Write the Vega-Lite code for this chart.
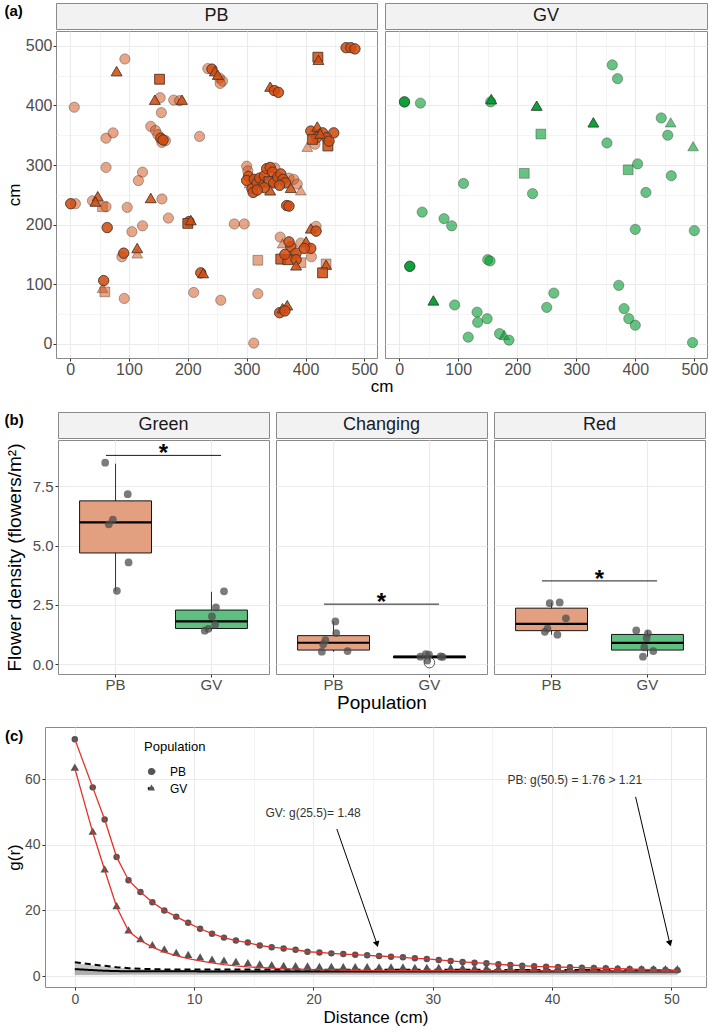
{
"$schema": "https://vega.github.io/schema/vega-lite/v6.json",
"padding": {"left": 3, "top": 2, "right": 3, "bottom": 2},
"background": "white",
"spacing": 16,
"resolve": {"scale": {"shape": "independent", "fill": "independent", "strokeDash": "independent", "size": "independent"}, "legend": {"shape": "independent", "fill": "independent", "strokeDash": "independent", "size": "independent"}},
"config": {
  "font": "Liberation Sans",
  "view": {"stroke": "#8a8a8a", "strokeWidth": 1},
  "axis": {"domain": false, "tickColor": "#333333", "tickSize": 3, "labelColor": "#4d4d4d", "labelFontSize": 14, "titleColor": "#000000", "titleFontSize": 17, "titleFontWeight": "normal", "gridColor": "#ebebeb", "labelPadding": 2, "titlePadding": 2, "labelOverlap": false, "labelFlush": false},
  "title": {"fontSize": 15, "fontWeight": "bold", "anchor": "start", "frame": "bounds", "offset": 0, "color": "#000000"}
},
"datasets": {
  "pb": [
{"x":93,"y":478,"s":"c"},{"x":7,"y":397,"s":"c"},{"x":153,"y":413,"s":"c"},{"x":155,"y":388,"s":"c"},{"x":176,"y":409,"s":"c"},{"x":186,"y":408,"s":"c"},{"x":234,"y":462,"s":"c"},{"x":254,"y":446,"s":"c"},{"x":259,"y":441,"s":"c"},{"x":255,"y":437,"s":"c"},{"x":403,"y":328,"s":"t"},{"x":416,"y":335,"s":"c"},{"x":415,"y":352,"s":"c"},{"x":61,"y":345,"s":"c"},{"x":73,"y":354,"s":"c"},{"x":137,"y":365,"s":"c"},{"x":145,"y":358,"s":"c"},{"x":149,"y":351,"s":"c"},{"x":156,"y":338,"s":"c"},{"x":162,"y":341,"s":"c"},{"x":220,"y":348,"s":"c"},{"x":61,"y":296,"s":"c"},{"x":123,"y":288,"s":"c"},{"x":116,"y":274,"s":"c"},{"x":300,"y":298,"s":"c"},{"x":302,"y":290,"s":"c"},{"x":305,"y":267,"s":"t"},{"x":348,"y":295,"s":"c"},{"x":372,"y":278,"s":"c"},{"x":380,"y":276,"s":"c"},{"x":386,"y":268,"s":"c"},{"x":392,"y":255,"s":"t"},{"x":9,"y":235,"s":"c"},{"x":38,"y":240,"s":"c"},{"x":55,"y":230,"s":"q"},{"x":61,"y":230,"s":"c"},{"x":97,"y":229,"s":"c"},{"x":156,"y":243,"s":"c"},{"x":167,"y":211,"s":"c"},{"x":123,"y":198,"s":"c"},{"x":105,"y":188,"s":"c"},{"x":279,"y":201,"s":"c"},{"x":296,"y":201,"s":"c"},{"x":114,"y":149,"s":"t"},{"x":88,"y":146,"s":"c"},{"x":319,"y":140,"s":"q"},{"x":55,"y":91,"s":"t"},{"x":59,"y":87,"s":"q"},{"x":92,"y":76,"s":"c"},{"x":210,"y":86,"s":"c"},{"x":256,"y":73,"s":"c"},{"x":319,"y":84,"s":"c"},{"x":312,"y":1,"s":"c"},{"x":357,"y":179,"s":"c"},{"x":418,"y":197,"s":"c"},{"x":361,"y":166,"s":"t"},{"x":392,"y":169,"s":"c"},{"x":410,"y":146,"s":"c"},{"x":392,"y":136,"s":"q"},{"x":380,"y":150,"s":"c"},{"x":435,"y":134,"s":"q"},
{"x":79,"y":455,"s":"t"},{"x":79,"y":455,"s":"t"},{"x":79,"y":455,"s":"t"},
{"x":152,"y":444,"s":"q"},{"x":152,"y":444,"s":"q"},{"x":152,"y":444,"s":"q"},
{"x":144,"y":407,"s":"t"},{"x":144,"y":407,"s":"t"},{"x":144,"y":407,"s":"t"},
{"x":190,"y":407,"s":"t"},{"x":190,"y":407,"s":"t"},{"x":190,"y":407,"s":"t"},
{"x":241,"y":461,"s":"c"},{"x":241,"y":461,"s":"c"},{"x":241,"y":461,"s":"c"},
{"x":246,"y":455,"s":"t"},{"x":246,"y":455,"s":"t"},{"x":246,"y":455,"s":"t"},
{"x":251,"y":449,"s":"t"},{"x":251,"y":449,"s":"t"},{"x":251,"y":449,"s":"t"},
{"x":340,"y":429,"s":"t"},{"x":340,"y":429,"s":"t"},{"x":340,"y":429,"s":"t"},
{"x":347,"y":425,"s":"c"},{"x":347,"y":425,"s":"c"},{"x":347,"y":425,"s":"c"},
{"x":354,"y":422,"s":"c"},{"x":354,"y":422,"s":"c"},{"x":354,"y":422,"s":"c"},
{"x":421,"y":481,"s":"q"},{"x":421,"y":481,"s":"q"},{"x":421,"y":481,"s":"q"},
{"x":422,"y":474,"s":"t"},{"x":422,"y":474,"s":"t"},{"x":422,"y":474,"s":"t"},
{"x":469,"y":497,"s":"c"},{"x":469,"y":497,"s":"c"},{"x":469,"y":497,"s":"c"},
{"x":477,"y":497,"s":"c"},{"x":477,"y":497,"s":"c"},{"x":477,"y":497,"s":"c"},
{"x":484,"y":495,"s":"c"},{"x":484,"y":495,"s":"c"},{"x":484,"y":495,"s":"c"},
{"x":409,"y":357,"s":"c"},{"x":409,"y":357,"s":"c"},{"x":409,"y":357,"s":"c"},
{"x":420,"y":362,"s":"t"},{"x":420,"y":362,"s":"t"},{"x":420,"y":362,"s":"t"},
{"x":429,"y":354,"s":"c"},{"x":429,"y":354,"s":"c"},{"x":429,"y":354,"s":"c"},
{"x":448,"y":354,"s":"c"},{"x":448,"y":354,"s":"c"},{"x":448,"y":354,"s":"c"},
{"x":436,"y":346,"s":"c"},{"x":436,"y":346,"s":"c"},{"x":436,"y":346,"s":"c"},
{"x":419,"y":346,"s":"c"},{"x":419,"y":346,"s":"c"},{"x":419,"y":346,"s":"c"},
{"x":438,"y":332,"s":"q"},{"x":438,"y":332,"s":"q"},{"x":438,"y":332,"s":"q"},
{"x":412,"y":343,"s":"q"},{"x":412,"y":343,"s":"q"},{"x":412,"y":343,"s":"q"},
{"x":425,"y":350,"s":"t"},{"x":425,"y":350,"s":"t"},{"x":425,"y":350,"s":"t"},
{"x":440,"y":340,"s":"c"},{"x":440,"y":340,"s":"c"},{"x":440,"y":340,"s":"c"},
{"x":154,"y":345,"s":"c"},{"x":154,"y":345,"s":"c"},{"x":154,"y":345,"s":"c"},
{"x":158,"y":342,"s":"c"},{"x":158,"y":342,"s":"c"},{"x":158,"y":342,"s":"c"},
{"x":303,"y":281,"s":"c"},{"x":303,"y":281,"s":"c"},{"x":303,"y":281,"s":"c"},
{"x":300,"y":274,"s":"c"},{"x":300,"y":274,"s":"c"},{"x":300,"y":274,"s":"c"},
{"x":309,"y":260,"s":"c"},{"x":309,"y":260,"s":"c"},{"x":309,"y":260,"s":"c"},
{"x":311,"y":254,"s":"c"},{"x":311,"y":254,"s":"c"},{"x":311,"y":254,"s":"c"},
{"x":313,"y":276,"s":"c"},{"x":313,"y":276,"s":"c"},{"x":313,"y":276,"s":"c"},
{"x":318,"y":270,"s":"c"},{"x":318,"y":270,"s":"c"},{"x":318,"y":270,"s":"c"},
{"x":322,"y":278,"s":"c"},{"x":322,"y":278,"s":"c"},{"x":322,"y":278,"s":"c"},
{"x":326,"y":268,"s":"t"},{"x":326,"y":268,"s":"t"},{"x":326,"y":268,"s":"t"},
{"x":330,"y":282,"s":"c"},{"x":330,"y":282,"s":"c"},{"x":330,"y":282,"s":"c"},
{"x":334,"y":294,"s":"c"},{"x":334,"y":294,"s":"c"},{"x":334,"y":294,"s":"c"},
{"x":340,"y":296,"s":"c"},{"x":340,"y":296,"s":"c"},{"x":340,"y":296,"s":"c"},
{"x":344,"y":288,"s":"c"},{"x":344,"y":288,"s":"c"},{"x":344,"y":288,"s":"c"},
{"x":338,"y":272,"s":"q"},{"x":338,"y":272,"s":"q"},{"x":338,"y":272,"s":"q"},
{"x":346,"y":270,"s":"c"},{"x":346,"y":270,"s":"c"},{"x":346,"y":270,"s":"c"},
{"x":340,"y":255,"s":"t"},{"x":340,"y":255,"s":"t"},{"x":340,"y":255,"s":"t"},
{"x":353,"y":280,"s":"c"},{"x":353,"y":280,"s":"c"},{"x":353,"y":280,"s":"c"},
{"x":358,"y":285,"s":"c"},{"x":358,"y":285,"s":"c"},{"x":358,"y":285,"s":"c"},
{"x":362,"y":276,"s":"c"},{"x":362,"y":276,"s":"c"},{"x":362,"y":276,"s":"c"},
{"x":366,"y":270,"s":"c"},{"x":366,"y":270,"s":"c"},{"x":366,"y":270,"s":"c"},
{"x":356,"y":266,"s":"c"},{"x":356,"y":266,"s":"c"},{"x":356,"y":266,"s":"c"},
{"x":375,"y":259,"s":"t"},{"x":375,"y":259,"s":"t"},{"x":375,"y":259,"s":"t"},
{"x":330,"y":262,"s":"c"},{"x":330,"y":262,"s":"c"},{"x":330,"y":262,"s":"c"},
{"x":318,"y":258,"s":"c"},{"x":318,"y":258,"s":"c"},{"x":318,"y":258,"s":"c"},
{"x":368,"y":232,"s":"c"},{"x":368,"y":232,"s":"c"},{"x":368,"y":232,"s":"c"},
{"x":372,"y":231,"s":"c"},{"x":372,"y":231,"s":"c"},{"x":372,"y":231,"s":"c"},
{"x":1,"y":235,"s":"c"},{"x":1,"y":235,"s":"c"},{"x":1,"y":235,"s":"c"},
{"x":47,"y":245,"s":"t"},{"x":47,"y":245,"s":"t"},{"x":47,"y":245,"s":"t"},
{"x":43,"y":236,"s":"t"},{"x":43,"y":236,"s":"t"},{"x":43,"y":236,"s":"t"},
{"x":137,"y":242,"s":"t"},{"x":137,"y":242,"s":"t"},{"x":137,"y":242,"s":"t"},
{"x":202,"y":205,"s":"c"},{"x":202,"y":205,"s":"c"},{"x":202,"y":205,"s":"c"},
{"x":200,"y":202,"s":"q"},{"x":200,"y":202,"s":"q"},{"x":200,"y":202,"s":"q"},
{"x":205,"y":205,"s":"t"},{"x":205,"y":205,"s":"t"},{"x":205,"y":205,"s":"t"},
{"x":63,"y":195,"s":"c"},{"x":63,"y":195,"s":"c"},{"x":63,"y":195,"s":"c"},
{"x":114,"y":158,"s":"t"},{"x":114,"y":158,"s":"t"},{"x":114,"y":158,"s":"t"},
{"x":91,"y":152,"s":"c"},{"x":91,"y":152,"s":"c"},{"x":91,"y":152,"s":"c"},
{"x":222,"y":119,"s":"c"},{"x":222,"y":119,"s":"c"},{"x":222,"y":119,"s":"c"},
{"x":226,"y":116,"s":"t"},{"x":226,"y":116,"s":"t"},{"x":226,"y":116,"s":"t"},
{"x":57,"y":106,"s":"c"},{"x":57,"y":106,"s":"c"},{"x":57,"y":106,"s":"c"},
{"x":356,"y":52,"s":"c"},{"x":356,"y":52,"s":"c"},{"x":356,"y":52,"s":"c"},
{"x":361,"y":57,"s":"t"},{"x":361,"y":57,"s":"t"},{"x":361,"y":57,"s":"t"},
{"x":369,"y":62,"s":"t"},{"x":369,"y":62,"s":"t"},{"x":369,"y":62,"s":"t"},
{"x":365,"y":55,"s":"c"},{"x":365,"y":55,"s":"c"},{"x":365,"y":55,"s":"c"},
{"x":409,"y":191,"s":"t"},{"x":409,"y":191,"s":"t"},{"x":409,"y":191,"s":"t"},
{"x":418,"y":189,"s":"c"},{"x":418,"y":189,"s":"c"},{"x":418,"y":189,"s":"c"},
{"x":375,"y":163,"s":"c"},{"x":375,"y":163,"s":"c"},{"x":375,"y":163,"s":"c"},
{"x":401,"y":169,"s":"t"},{"x":401,"y":169,"s":"t"},{"x":401,"y":169,"s":"t"},
{"x":409,"y":160,"s":"c"},{"x":409,"y":160,"s":"c"},{"x":409,"y":160,"s":"c"},
{"x":384,"y":152,"s":"c"},{"x":384,"y":152,"s":"c"},{"x":384,"y":152,"s":"c"},
{"x":358,"y":142,"s":"q"},{"x":358,"y":142,"s":"q"},{"x":358,"y":142,"s":"q"},
{"x":370,"y":141,"s":"q"},{"x":370,"y":141,"s":"q"},{"x":370,"y":141,"s":"q"},
{"x":384,"y":141,"s":"c"},{"x":384,"y":141,"s":"c"},{"x":384,"y":141,"s":"c"},
{"x":384,"y":129,"s":"t"},{"x":384,"y":129,"s":"t"},{"x":384,"y":129,"s":"t"},
{"x":365,"y":150,"s":"c"},{"x":365,"y":150,"s":"c"},{"x":365,"y":150,"s":"c"},
{"x":398,"y":160,"s":"c"},{"x":398,"y":160,"s":"c"},{"x":398,"y":160,"s":"c"},
{"x":372,"y":171,"s":"c"},{"x":372,"y":171,"s":"c"},{"x":372,"y":171,"s":"c"},
{"x":435,"y":130,"s":"t"},{"x":435,"y":130,"s":"t"},{"x":435,"y":130,"s":"t"},
{"x":429,"y":119,"s":"q"},{"x":429,"y":119,"s":"q"},{"x":429,"y":119,"s":"q"}
  ],
  "gv": [
{"x":36,"y":404,"s":"c"},{"x":240,"y":352,"s":"q"},{"x":361,"y":468,"s":"c"},{"x":370,"y":445,"s":"c"},{"x":444,"y":379,"s":"c"},{"x":460,"y":369,"s":"t"},{"x":455,"y":350,"s":"c"},{"x":498,"y":329,"s":"t"},{"x":352,"y":337,"s":"c"},{"x":212,"y":286,"s":"q"},{"x":388,"y":292,"s":"q"},{"x":404,"y":302,"s":"c"},{"x":461,"y":282,"s":"c"},{"x":109,"y":269,"s":"c"},{"x":226,"y":252,"s":"c"},{"x":418,"y":254,"s":"c"},{"x":39,"y":221,"s":"c"},{"x":76,"y":210,"s":"c"},{"x":89,"y":198,"s":"c"},{"x":400,"y":192,"s":"c"},{"x":500,"y":190,"s":"c"},{"x":150,"y":141,"s":"c"},{"x":154,"y":139,"s":"c"},{"x":94,"y":65,"s":"c"},{"x":132,"y":53,"s":"c"},{"x":133,"y":36,"s":"c"},{"x":149,"y":42,"s":"c"},{"x":117,"y":11,"s":"c"},{"x":170,"y":17,"s":"c"},{"x":178,"y":12,"s":"t"},{"x":186,"y":6,"s":"c"},{"x":262,"y":85,"s":"c"},{"x":250,"y":61,"s":"c"},{"x":372,"y":98,"s":"c"},{"x":381,"y":59,"s":"c"},{"x":389,"y":42,"s":"c"},{"x":400,"y":31,"s":"c"},{"x":497,"y":2,"s":"c"},{"x":155,"y":406,"s":"c"},
{"x":9,"y":406,"s":"c"},{"x":9,"y":406,"s":"c"},{"x":9,"y":406,"s":"c"},
{"x":156,"y":408,"s":"t"},{"x":156,"y":408,"s":"t"},{"x":156,"y":408,"s":"t"},
{"x":233,"y":397,"s":"t"},{"x":233,"y":397,"s":"t"},{"x":233,"y":397,"s":"t"},
{"x":329,"y":369,"s":"t"},{"x":329,"y":369,"s":"t"},{"x":329,"y":369,"s":"t"},
{"x":18,"y":130,"s":"c"},{"x":18,"y":130,"s":"c"},{"x":18,"y":130,"s":"c"},
{"x":58,"y":70,"s":"t"},{"x":58,"y":70,"s":"t"},{"x":58,"y":70,"s":"t"}
  ],
  "box": [
{"col":"Green","pop":"PB","q1":4.69,"med":5.98,"q3":6.89,"lo":3.09,"hi":8.46,"out":null},
{"col":"Green","pop":"GV","q1":1.5,"med":1.8,"q3":2.28,"lo":1.41,"hi":3.05,"out":null},
{"col":"Changing","pop":"PB","q1":0.59,"med":0.9,"q3":1.2,"lo":0.52,"hi":1.8,"out":null},
{"col":"Changing","pop":"GV","q1":0.26,"med":0.3,"q3":0.34,"lo":0.15,"hi":0.42,"out":0.06},
{"col":"Red","pop":"PB","q1":1.41,"med":1.7,"q3":2.36,"lo":1.24,"hi":2.6,"out":null},
{"col":"Red","pop":"GV","q1":0.59,"med":0.89,"q3":1.25,"lo":0.31,"hi":1.42,"out":null}
  ],
  "pts": [
{"col":"Green","pop":"PB","xj":0.892,"v":8.5},{"col":"Green","pop":"PB","xj":1.127,"v":7.17},{"col":"Green","pop":"PB","xj":0.972,"v":6.1},{"col":"Green","pop":"PB","xj":0.93,"v":5.9},{"col":"Green","pop":"PB","xj":1.136,"v":4.29},{"col":"Green","pop":"PB","xj":1.014,"v":3.09},
{"col":"Green","pop":"GV","xj":2.131,"v":3.07},{"col":"Green","pop":"GV","xj":2.047,"v":2.39},{"col":"Green","pop":"GV","xj":2.005,"v":2.01},{"col":"Green","pop":"GV","xj":2.038,"v":1.66},{"col":"Green","pop":"GV","xj":1.967,"v":1.49},{"col":"Green","pop":"GV","xj":1.93,"v":1.41},
{"col":"Changing","pop":"PB","xj":1.019,"v":1.8},{"col":"Changing","pop":"PB","xj":1.028,"v":1.31},{"col":"Changing","pop":"PB","xj":0.915,"v":1.01},{"col":"Changing","pop":"PB","xj":0.892,"v":0.84},{"col":"Changing","pop":"PB","xj":0.878,"v":0.52},{"col":"Changing","pop":"PB","xj":1.146,"v":0.55},
{"col":"Changing","pop":"GV","xj":1.906,"v":0.31},{"col":"Changing","pop":"GV","xj":1.962,"v":0.42},{"col":"Changing","pop":"GV","xj":1.995,"v":0.4},{"col":"Changing","pop":"GV","xj":1.977,"v":0.15},{"col":"Changing","pop":"GV","xj":2.117,"v":0.32},{"col":"Changing","pop":"GV","xj":2.136,"v":0.3},
{"col":"Red","pop":"PB","xj":0.981,"v":2.57},{"col":"Red","pop":"PB","xj":1.085,"v":2.6},{"col":"Red","pop":"PB","xj":1.15,"v":1.93},{"col":"Red","pop":"PB","xj":0.958,"v":1.5},{"col":"Red","pop":"PB","xj":0.93,"v":1.36},{"col":"Red","pop":"PB","xj":1.061,"v":1.24},
{"col":"Red","pop":"GV","xj":1.883,"v":1.42},{"col":"Red","pop":"GV","xj":2.005,"v":1.3},{"col":"Red","pop":"GV","xj":1.991,"v":1.1},{"col":"Red","pop":"GV","xj":1.967,"v":0.7},{"col":"Red","pop":"GV","xj":2.061,"v":0.55},{"col":"Red","pop":"GV","xj":1.953,"v":0.31}
  ],
  "sig": [
{"col":"Green","y":8.81,"lab":"*"},{"col":"Changing","y":2.53,"lab":"*"},{"col":"Red","y":3.51,"lab":"*"}
  ],
  "gr": [
{"d":0,"p":"PB","g":72.2,"f":72.2,"lo":0.4,"hi":2.3,"th":2.1},
{"d":1.5,"p":"PB","g":57.5,"f":57.5,"lo":0.4,"hi":2.0,"th":1.8},
{"d":2.5,"p":"PB","g":47.7,"f":47.7,"lo":0.5,"hi":1.9,"th":1.6},
{"d":3.5,"p":"PB","g":36.3,"f":36.3,"lo":0.5,"hi":1.8,"th":1.5},
{"d":4.5,"p":"PB","g":29.2,"f":29.2,"lo":0.6,"hi":1.7,"th":1.45},
{"d":5.5,"p":"PB","g":25.6,"f":25.6,"lo":0.6,"hi":1.7,"th":1.45},
{"d":6.5,"p":"PB","g":22.5,"f":22.5,"lo":0.6,"hi":1.7,"th":1.45},
{"d":7.5,"p":"PB","g":20.0,"f":20.0,"lo":0.6,"hi":1.7,"th":1.45},
{"d":8.5,"p":"PB","g":18.1,"f":18.1,"lo":0.6,"hi":1.7,"th":1.45},
{"d":9.5,"p":"PB","g":16.2,"f":16.2,"lo":0.6,"hi":1.7,"th":1.45},
{"d":10.5,"p":"PB","g":14.4,"f":14.4,"lo":0.6,"hi":1.65,"th":1.4},
{"d":11.5,"p":"PB","g":12.9,"f":12.9,"lo":0.6,"hi":1.65,"th":1.4},
{"d":12.5,"p":"PB","g":11.7,"f":11.7,"lo":0.6,"hi":1.65,"th":1.4},
{"d":13.5,"p":"PB","g":10.8,"f":10.8,"lo":0.6,"hi":1.65,"th":1.4},
{"d":14.5,"p":"PB","g":10.2,"f":10.2,"lo":0.6,"hi":1.65,"th":1.4},
{"d":15.5,"p":"PB","g":9.3,"f":9.3,"lo":0.6,"hi":1.65,"th":1.4},
{"d":16.5,"p":"PB","g":8.8,"f":8.8,"lo":0.6,"hi":1.65,"th":1.4},
{"d":17.5,"p":"PB","g":8.4,"f":8.4,"lo":0.6,"hi":1.65,"th":1.4},
{"d":18.5,"p":"PB","g":8.0,"f":8.0,"lo":0.6,"hi":1.65,"th":1.4},
{"d":19.5,"p":"PB","g":7.4,"f":7.4,"lo":0.6,"hi":1.65,"th":1.4},
{"d":20.5,"p":"PB","g":7.2,"f":7.2,"lo":0.6,"hi":1.65,"th":1.4},
{"d":21.5,"p":"PB","g":6.9,"f":6.9,"lo":0.6,"hi":1.65,"th":1.4},
{"d":22.5,"p":"PB","g":6.7,"f":6.7,"lo":0.6,"hi":1.65,"th":1.4},
{"d":23.5,"p":"PB","g":6.5,"f":6.5,"lo":0.6,"hi":1.65,"th":1.4},
{"d":24.5,"p":"PB","g":6.3,"f":6.3,"lo":0.6,"hi":1.65,"th":1.4},
{"d":25.5,"p":"PB","g":6.1,"f":6.1,"lo":0.6,"hi":1.65,"th":1.4},
{"d":26.5,"p":"PB","g":5.9,"f":5.9,"lo":0.6,"hi":1.65,"th":1.4},
{"d":27.5,"p":"PB","g":5.7,"f":5.7,"lo":0.6,"hi":1.65,"th":1.4},
{"d":28.5,"p":"PB","g":5.4,"f":5.4,"lo":0.6,"hi":1.65,"th":1.4},
{"d":29.5,"p":"PB","g":5.2,"f":5.2,"lo":0.6,"hi":1.65,"th":1.4},
{"d":30.5,"p":"PB","g":4.9,"f":4.9,"lo":0.6,"hi":1.65,"th":1.4},
{"d":31.5,"p":"PB","g":4.6,"f":4.6,"lo":0.6,"hi":1.65,"th":1.4},
{"d":32.5,"p":"PB","g":4.3,"f":4.3,"lo":0.6,"hi":1.65,"th":1.4},
{"d":33.5,"p":"PB","g":4.06,"f":4.06,"lo":0.6,"hi":1.65,"th":1.4},
{"d":34.5,"p":"PB","g":3.86,"f":3.86,"lo":0.6,"hi":1.65,"th":1.4},
{"d":35.5,"p":"PB","g":3.55,"f":3.55,"lo":0.6,"hi":1.65,"th":1.4},
{"d":36.5,"p":"PB","g":3.35,"f":3.35,"lo":0.6,"hi":1.65,"th":1.4},
{"d":37.5,"p":"PB","g":3.15,"f":3.15,"lo":0.6,"hi":1.65,"th":1.4},
{"d":38.5,"p":"PB","g":2.95,"f":2.95,"lo":0.6,"hi":1.65,"th":1.4},
{"d":39.5,"p":"PB","g":2.84,"f":2.84,"lo":0.6,"hi":1.65,"th":1.4},
{"d":40.5,"p":"PB","g":2.74,"f":2.74,"lo":0.6,"hi":1.65,"th":1.4},
{"d":41.5,"p":"PB","g":2.64,"f":2.64,"lo":0.6,"hi":1.65,"th":1.4},
{"d":42.5,"p":"PB","g":2.54,"f":2.54,"lo":0.6,"hi":1.65,"th":1.4},
{"d":43.5,"p":"PB","g":2.44,"f":2.44,"lo":0.6,"hi":1.65,"th":1.4},
{"d":44.5,"p":"PB","g":2.34,"f":2.34,"lo":0.6,"hi":1.65,"th":1.4},
{"d":45.5,"p":"PB","g":2.23,"f":2.23,"lo":0.6,"hi":1.65,"th":1.4},
{"d":46.5,"p":"PB","g":2.13,"f":2.13,"lo":0.6,"hi":1.65,"th":1.4},
{"d":47.5,"p":"PB","g":2.03,"f":2.03,"lo":0.6,"hi":1.65,"th":1.4},
{"d":48.5,"p":"PB","g":1.95,"f":1.95,"lo":0.6,"hi":1.65,"th":1.4},
{"d":49.5,"p":"PB","g":1.85,"f":1.85,"lo":0.6,"hi":1.65,"th":1.4},
{"d":50.5,"p":"PB","g":1.76,"f":1.76,"lo":0.6,"hi":1.65,"th":1.4},
{"d":0,"p":"GV","g":63.3,"f":63.3,"lo":0.2,"hi":3.9,"th":4.2},
{"d":1.5,"p":"GV","g":43.8,"f":43.8,"lo":0.2,"hi":3.3,"th":3.5},
{"d":2.5,"p":"GV","g":32.3,"f":32.3,"lo":0.2,"hi":2.9,"th":3.1},
{"d":3.5,"p":"GV","g":21.1,"f":21.1,"lo":0.2,"hi":2.6,"th":2.7},
{"d":4.5,"p":"GV","g":13.7,"f":13.7,"lo":0.2,"hi":2.3,"th":2.4},
{"d":5.5,"p":"GV","g":11.0,"f":10.8,"lo":0.2,"hi":2.1,"th":2.2},
{"d":6.5,"p":"GV","g":9.2,"f":8.8,"lo":0.2,"hi":2.0,"th":2.1},
{"d":7.5,"p":"GV","g":7.9,"f":7.3,"lo":0.2,"hi":1.95,"th":2.0},
{"d":8.5,"p":"GV","g":6.8,"f":6.2,"lo":0.2,"hi":1.9,"th":1.95},
{"d":9.5,"p":"GV","g":6.2,"f":5.3,"lo":0.2,"hi":1.9,"th":1.95},
{"d":10.5,"p":"GV","g":5.5,"f":4.6,"lo":0.2,"hi":1.9,"th":1.95},
{"d":11.5,"p":"GV","g":4.8,"f":4.0,"lo":0.2,"hi":1.9,"th":1.95},
{"d":12.5,"p":"GV","g":4.5,"f":3.5,"lo":0.2,"hi":1.9,"th":1.95},
{"d":13.5,"p":"GV","g":4.1,"f":3.1,"lo":0.2,"hi":1.9,"th":1.95},
{"d":14.5,"p":"GV","g":3.7,"f":2.8,"lo":0.2,"hi":1.9,"th":1.95},
{"d":15.5,"p":"GV","g":3.3,"f":2.6,"lo":0.2,"hi":1.9,"th":1.95},
{"d":16.5,"p":"GV","g":3.1,"f":2.4,"lo":0.2,"hi":1.9,"th":1.95},
{"d":17.5,"p":"GV","g":2.9,"f":2.2,"lo":0.2,"hi":1.9,"th":1.95},
{"d":18.5,"p":"GV","g":2.8,"f":2.1,"lo":0.2,"hi":1.9,"th":1.95},
{"d":19.5,"p":"GV","g":2.7,"f":2.0,"lo":0.2,"hi":1.9,"th":1.95},
{"d":20.5,"p":"GV","g":2.6,"f":1.9,"lo":0.2,"hi":1.85,"th":1.9},
{"d":21.5,"p":"GV","g":2.6,"f":1.85,"lo":0.2,"hi":1.85,"th":1.9},
{"d":22.5,"p":"GV","g":2.5,"f":1.8,"lo":0.2,"hi":1.85,"th":1.9},
{"d":23.5,"p":"GV","g":2.5,"f":1.75,"lo":0.2,"hi":1.85,"th":1.9},
{"d":24.5,"p":"GV","g":2.5,"f":1.7,"lo":0.2,"hi":1.85,"th":1.9},
{"d":25.5,"p":"GV","g":2.4,"f":1.65,"lo":0.2,"hi":1.85,"th":1.9},
{"d":26.5,"p":"GV","g":2.4,"f":1.6,"lo":0.2,"hi":1.85,"th":1.9},
{"d":27.5,"p":"GV","g":2.4,"f":1.6,"lo":0.2,"hi":1.85,"th":1.9},
{"d":28.5,"p":"GV","g":2.3,"f":1.6,"lo":0.2,"hi":1.85,"th":1.9},
{"d":29.5,"p":"GV","g":2.3,"f":1.6,"lo":0.2,"hi":1.85,"th":1.9},
{"d":30.5,"p":"GV","g":2.3,"f":1.6,"lo":0.2,"hi":1.85,"th":1.9},
{"d":31.5,"p":"GV","g":2.3,"f":1.6,"lo":0.2,"hi":1.85,"th":1.9},
{"d":32.5,"p":"GV","g":2.3,"f":1.6,"lo":0.2,"hi":1.85,"th":1.9},
{"d":33.5,"p":"GV","g":2.2,"f":1.6,"lo":0.2,"hi":1.85,"th":1.9},
{"d":34.5,"p":"GV","g":2.2,"f":1.55,"lo":0.2,"hi":1.85,"th":1.9},
{"d":35.5,"p":"GV","g":2.2,"f":1.55,"lo":0.2,"hi":1.8,"th":1.85},
{"d":36.5,"p":"GV","g":2.2,"f":1.55,"lo":0.2,"hi":1.8,"th":1.85},
{"d":37.5,"p":"GV","g":2.1,"f":1.55,"lo":0.2,"hi":1.8,"th":1.85},
{"d":38.5,"p":"GV","g":2.1,"f":1.55,"lo":0.2,"hi":1.8,"th":1.85},
{"d":39.5,"p":"GV","g":2.1,"f":1.55,"lo":0.2,"hi":1.8,"th":1.85},
{"d":40.5,"p":"GV","g":2.1,"f":1.5,"lo":0.2,"hi":1.8,"th":1.85},
{"d":41.5,"p":"GV","g":2.0,"f":1.5,"lo":0.2,"hi":1.8,"th":1.85},
{"d":42.5,"p":"GV","g":2.0,"f":1.5,"lo":0.2,"hi":1.8,"th":1.85},
{"d":43.5,"p":"GV","g":2.0,"f":1.5,"lo":0.2,"hi":1.8,"th":1.85},
{"d":44.5,"p":"GV","g":2.0,"f":1.5,"lo":0.2,"hi":1.8,"th":1.85},
{"d":45.5,"p":"GV","g":2.0,"f":1.5,"lo":0.2,"hi":1.8,"th":1.85},
{"d":46.5,"p":"GV","g":1.9,"f":1.5,"lo":0.2,"hi":1.8,"th":1.85},
{"d":47.5,"p":"GV","g":1.9,"f":1.5,"lo":0.2,"hi":1.8,"th":1.85},
{"d":48.5,"p":"GV","g":1.9,"f":1.5,"lo":0.2,"hi":1.8,"th":1.85},
{"d":49.5,"p":"GV","g":1.9,"f":1.5,"lo":0.2,"hi":1.8,"th":1.85},
{"d":50.5,"p":"GV","g":1.9,"f":1.5,"lo":0.2,"hi":1.8,"th":1.85}
  ],
  "arr": [
{"x":21.96,"y":44.8,"x2":25.3,"y2":10.0},
{"x":47.0,"y":54.6,"x2":49.85,"y2":10.2}
  ],
  "ann": [
{"x":19.97,"y":49.6,"t":"GV: g(25.5)= 1.48"},
{"x":41.9,"y":59.7,"t":"PB: g(50.5) = 1.76 > 1.21"}
  ]
},
"vconcat": [
 {"spacing": 0, "hconcat": [
  {"width": 1, "height": 1, "view": {"stroke": null}, "data": {"values": []}, "mark": "point"},
  {
  "title": {"text": "(a)", "dy": 20},
  "spacing": 0,
  "vconcat": [
   {"bounds": "flush", "spacing": 8, "hconcat": [
     {"width": 321, "height": 26, "view": {"fill": "#f2f2f2", "stroke": "#8a8a8a"}, "data": {"values": [{"lab": "PB"}]}, "mark": {"type": "text", "fontSize": 18, "color": "#1a1a1a"}, "encoding": {"text": {"field": "lab", "type": "nominal"}}},
     {"width": 322, "height": 26, "view": {"fill": "#f2f2f2", "stroke": "#8a8a8a"}, "data": {"values": [{"lab": "GV"}]}, "mark": {"type": "text", "fontSize": 18, "color": "#1a1a1a"}, "encoding": {"text": {"field": "lab", "type": "nominal"}}}
   ]},
   {"bounds": "flush", "spacing": 8, "hconcat": [
     {"width": 321, "height": 327, "data": {"name": "pb"},
      "mark": {"type": "point", "filled": true, "fill": "#d14d11", "fillOpacity": 0.5, "stroke": "#333333", "strokeOpacity": 0.5, "strokeWidth": 0.8},
      "encoding": {
        "x": {"field": "x", "type": "quantitative", "scale": {"domain": [-24, 521.5], "nice": false, "zero": false},
              "axis": {"values": [0,50,100,150,200,250,300,350,400,450,500], "labelExpr": "datum.value % 100 === 0 ? datum.label : ''", "labelFontSize": 16, "labelPadding": 0, "tickOpacity": {"condition": {"test": "datum.value % 100 === 0", "value": 1}, "value": 0}, "gridWidth": {"condition": {"test": "datum.value % 100 === 0", "value": 1.1}, "value": 0.55}, "title": "cm", "titleX": 325.5, "titlePadding": 1}},
        "y": {"field": "y", "type": "quantitative", "scale": {"domain": [-24, 525], "nice": false, "zero": false},
              "axis": {"values": [0,50,100,150,200,250,300,350,400,450,500], "labelExpr": "datum.value % 100 === 0 ? datum.label : ''", "labelFontSize": 16, "labelPadding": 1, "tickOpacity": {"condition": {"test": "datum.value % 100 === 0", "value": 1}, "value": 0}, "gridWidth": {"condition": {"test": "datum.value % 100 === 0", "value": 1.1}, "value": 0.55}, "title": "cm", "minExtent": 31, "maxExtent": 31}},
        "shape": {"field": "s", "type": "nominal", "scale": {"domain": ["c","t","q"], "range": ["circle","triangle","square"]}, "legend": null},
        "size": {"field": "s", "type": "nominal", "scale": {"domain": ["t","c","q"], "range": [115, 95, 80]}, "legend": null}
      }},
     {"width": 322, "height": 327, "data": {"name": "gv"},
      "mark": {"type": "point", "filled": true, "fill": "#009b2d", "fillOpacity": 0.6, "stroke": "#333333", "strokeOpacity": 0.5, "strokeWidth": 0.8},
      "encoding": {
        "x": {"field": "x", "type": "quantitative", "scale": {"domain": [-24, 521.5], "nice": false, "zero": false},
              "axis": {"values": [0,50,100,150,200,250,300,350,400,450,500], "labelExpr": "datum.value % 100 === 0 ? datum.label : ''", "labelFontSize": 16, "labelPadding": 0, "tickOpacity": {"condition": {"test": "datum.value % 100 === 0", "value": 1}, "value": 0}, "gridWidth": {"condition": {"test": "datum.value % 100 === 0", "value": 1.1}, "value": 0.55}, "title": null}},
        "y": {"field": "y", "type": "quantitative", "scale": {"domain": [-24, 525], "nice": false, "zero": false},
              "axis": {"values": [0,50,100,150,200,250,300,350,400,450,500], "labels": false, "ticks": false, "title": null, "gridWidth": {"condition": {"test": "datum.value % 100 === 0", "value": 1.1}, "value": 0.55}, "minExtent": 0, "maxExtent": 0}},
        "shape": {"field": "s", "type": "nominal", "scale": {"domain": ["c","t","q"], "range": ["circle","triangle","square"]}, "legend": null},
        "size": {"field": "s", "type": "nominal", "scale": {"domain": ["t","c","q"], "range": [115, 95, 80]}, "legend": null}
      }}
   ]}
  ]
  }
 ]},
 {"spacing": 13, "vconcat": [
 {"spacing": 0, "hconcat": [
  {"width": 1, "height": 1, "view": {"stroke": null}, "data": {"values": []}, "mark": "point"},
  {
  "title": {"text": "(b)", "dy": 20},
  "spacing": 0,
  "vconcat": [
   {"bounds": "flush", "spacing": 7, "hconcat": [
     {"width": 211, "height": 26, "view": {"fill": "#f2f2f2", "stroke": "#8a8a8a"}, "data": {"values": [{"lab": "Green"}]}, "mark": {"type": "text", "fontSize": 18, "color": "#1a1a1a"}, "encoding": {"text": {"field": "lab", "type": "nominal"}}},
     {"width": 211, "height": 26, "view": {"fill": "#f2f2f2", "stroke": "#8a8a8a"}, "data": {"values": [{"lab": "Changing"}]}, "mark": {"type": "text", "fontSize": 18, "color": "#1a1a1a"}, "encoding": {"text": {"field": "lab", "type": "nominal"}}},
     {"width": 211, "height": 26, "view": {"fill": "#f2f2f2", "stroke": "#8a8a8a"}, "data": {"values": [{"lab": "Red"}]}, "mark": {"type": "text", "fontSize": 18, "color": "#1a1a1a"}, "encoding": {"text": {"field": "lab", "type": "nominal"}}}
   ]},
   {"bounds": "flush", "spacing": 7, "hconcat": [
     {"width": 211, "height": 234, "resolve": {"scale": {"x": "independent"}},
      "layer": [
       {"data": {"name": "box"}, "transform": [{"filter": "datum.col === 'Green'"}],
        "layer": [
         {"mark": {"type": "rule", "color": "#000000", "strokeWidth": 0.8},
          "encoding": {
            "x": {"field": "pop", "type": "nominal", "scale": {"domain": ["PB","GV"], "paddingInner": 0.25, "paddingOuter": 0.225}, "axis": {"title": null, "grid": true, "bandPosition": 0.5, "labelAngle": 0, "labelFontSize": 15, "labelPadding": 0, "gridWidth": 1.1}},
            "y": {"field": "lo", "type": "quantitative", "scale": {"domain": [-0.42, 9.46], "nice": false, "zero": false},
                  "axis": {"values": [0,1.25,2.5,3.75,5,6.25,7.5,8.75], "labelExpr": "datum.value % 2.5 === 0 ? format(datum.value, '.1f') : ''", "labelFontSize": 15, "tickOpacity": {"condition": {"test": "datum.value % 2.5 === 0", "value": 1}, "value": 0}, "gridWidth": {"condition": {"test": "datum.value % 2.5 === 0", "value": 1.1}, "value": 0.55}, "title": "Flower density (flowers/m²)", "titleFontSize": 19, "minExtent": 32, "maxExtent": 32}},
            "y2": {"field": "hi"}}},
         {"mark": {"type": "bar", "stroke": "#000000", "strokeWidth": 0.9},
          "encoding": {"x": {"field": "pop", "type": "nominal"}, "y": {"field": "q1", "type": "quantitative"}, "y2": {"field": "q3"},
            "fill": {"field": "pop", "type": "nominal", "scale": {"domain": ["PB","GV"], "range": ["#e2a080","#60be80"]}, "legend": null}}},
         {"mark": {"type": "bar", "fill": "transparent", "stroke": "#000000", "strokeWidth": 2.2},
          "encoding": {"x": {"field": "pop", "type": "nominal"}, "y": {"field": "med", "type": "quantitative"}, "y2": {"field": "med"}}}
        ]},
       {"layer": [
         {"data": {"name": "pts"}, "transform": [{"filter": "datum.col === 'Green'"}],
          "mark": {"type": "circle", "color": "#4d4d4d", "opacity": 0.75, "size": 60},
          "encoding": {"x": {"field": "xj", "type": "quantitative", "scale": {"domain": [0.4, 2.6], "nice": false, "zero": false}, "axis": null}, "y": {"field": "v", "type": "quantitative"}}},
         {"data": {"name": "sig"}, "transform": [{"filter": "datum.col === 'Green'"}],
          "mark": {"type": "rule", "color": "#000000", "strokeWidth": 0.9},
          "encoding": {"x": {"datum": 0.9, "type": "quantitative", "axis": null}, "x2": {"datum": 2.1}, "y": {"field": "y", "type": "quantitative"}}},
         {"data": {"name": "sig"}, "transform": [{"filter": "datum.col === 'Green'"}],
          "mark": {"type": "text", "fontSize": 24, "fontWeight": "bold", "baseline": "alphabetic", "dy": 6, "color": "#000000"},
          "encoding": {"x": {"datum": 1.5, "type": "quantitative", "axis": null}, "y": {"field": "y", "type": "quantitative"}, "text": {"field": "lab"}}}
       ]}
      ]},
     {"width": 211, "height": 234, "resolve": {"scale": {"x": "independent"}},
      "layer": [
       {"data": {"name": "box"}, "transform": [{"filter": "datum.col === 'Changing'"}],
        "layer": [
         {"mark": {"type": "rule", "color": "#000000", "strokeWidth": 0.8},
          "encoding": {
            "x": {"field": "pop", "type": "nominal", "scale": {"domain": ["PB","GV"], "paddingInner": 0.25, "paddingOuter": 0.225}, "axis": {"title": "Population", "titleFontSize": 19, "grid": true, "bandPosition": 0.5, "labelAngle": 0, "labelFontSize": 15, "labelPadding": 0, "gridWidth": 1.1, "titlePadding": 1}},
            "y": {"field": "lo", "type": "quantitative", "scale": {"domain": [-0.42, 9.46], "nice": false, "zero": false},
                  "axis": {"values": [0,1.25,2.5,3.75,5,6.25,7.5,8.75], "labels": false, "ticks": false, "title": null, "gridWidth": {"condition": {"test": "datum.value % 2.5 === 0", "value": 1.1}, "value": 0.55}, "minExtent": 0, "maxExtent": 0}},
            "y2": {"field": "hi"}}},
         {"mark": {"type": "bar", "stroke": "#000000", "strokeWidth": 0.9},
          "encoding": {"x": {"field": "pop", "type": "nominal"}, "y": {"field": "q1", "type": "quantitative"}, "y2": {"field": "q3"},
            "fill": {"field": "pop", "type": "nominal", "scale": {"domain": ["PB","GV"], "range": ["#e2a080","#60be80"]}, "legend": null}}},
         {"mark": {"type": "bar", "fill": "transparent", "stroke": "#000000", "strokeWidth": 2.2},
          "encoding": {"x": {"field": "pop", "type": "nominal"}, "y": {"field": "med", "type": "quantitative"}, "y2": {"field": "med"}}},
         {"mark": {"type": "point", "filled": false, "stroke": "#333333", "strokeWidth": 0.8, "size": 110, "opacity": 1},
          "encoding": {"x": {"field": "pop", "type": "nominal"}, "y": {"field": "out", "type": "quantitative"}}}
        ]},
       {"layer": [
         {"data": {"name": "pts"}, "transform": [{"filter": "datum.col === 'Changing'"}],
          "mark": {"type": "circle", "color": "#4d4d4d", "opacity": 0.75, "size": 60},
          "encoding": {"x": {"field": "xj", "type": "quantitative", "scale": {"domain": [0.4, 2.6], "nice": false, "zero": false}, "axis": null}, "y": {"field": "v", "type": "quantitative"}}},
         {"data": {"name": "sig"}, "transform": [{"filter": "datum.col === 'Changing'"}],
          "mark": {"type": "rule", "color": "#000000", "strokeWidth": 0.9},
          "encoding": {"x": {"datum": 0.9, "type": "quantitative", "axis": null}, "x2": {"datum": 2.1}, "y": {"field": "y", "type": "quantitative"}}},
         {"data": {"name": "sig"}, "transform": [{"filter": "datum.col === 'Changing'"}],
          "mark": {"type": "text", "fontSize": 24, "fontWeight": "bold", "baseline": "alphabetic", "dy": 6, "color": "#000000"},
          "encoding": {"x": {"datum": 1.5, "type": "quantitative", "axis": null}, "y": {"field": "y", "type": "quantitative"}, "text": {"field": "lab"}}}
       ]}
      ]},
     {"width": 211, "height": 234, "resolve": {"scale": {"x": "independent"}},
      "layer": [
       {"data": {"name": "box"}, "transform": [{"filter": "datum.col === 'Red'"}],
        "layer": [
         {"mark": {"type": "rule", "color": "#000000", "strokeWidth": 0.8},
          "encoding": {
            "x": {"field": "pop", "type": "nominal", "scale": {"domain": ["PB","GV"], "paddingInner": 0.25, "paddingOuter": 0.225}, "axis": {"title": null, "grid": true, "bandPosition": 0.5, "labelAngle": 0, "labelFontSize": 15, "labelPadding": 0, "gridWidth": 1.1}},
            "y": {"field": "lo", "type": "quantitative", "scale": {"domain": [-0.42, 9.46], "nice": false, "zero": false},
                  "axis": {"values": [0,1.25,2.5,3.75,5,6.25,7.5,8.75], "labels": false, "ticks": false, "title": null, "gridWidth": {"condition": {"test": "datum.value % 2.5 === 0", "value": 1.1}, "value": 0.55}, "minExtent": 0, "maxExtent": 0}},
            "y2": {"field": "hi"}}},
         {"mark": {"type": "bar", "stroke": "#000000", "strokeWidth": 0.9},
          "encoding": {"x": {"field": "pop", "type": "nominal"}, "y": {"field": "q1", "type": "quantitative"}, "y2": {"field": "q3"},
            "fill": {"field": "pop", "type": "nominal", "scale": {"domain": ["PB","GV"], "range": ["#e2a080","#60be80"]}, "legend": null}}},
         {"mark": {"type": "bar", "fill": "transparent", "stroke": "#000000", "strokeWidth": 2.2},
          "encoding": {"x": {"field": "pop", "type": "nominal"}, "y": {"field": "med", "type": "quantitative"}, "y2": {"field": "med"}}}
        ]},
       {"layer": [
         {"data": {"name": "pts"}, "transform": [{"filter": "datum.col === 'Red'"}],
          "mark": {"type": "circle", "color": "#4d4d4d", "opacity": 0.75, "size": 60},
          "encoding": {"x": {"field": "xj", "type": "quantitative", "scale": {"domain": [0.4, 2.6], "nice": false, "zero": false}, "axis": null}, "y": {"field": "v", "type": "quantitative"}}},
         {"data": {"name": "sig"}, "transform": [{"filter": "datum.col === 'Red'"}],
          "mark": {"type": "rule", "color": "#000000", "strokeWidth": 0.9},
          "encoding": {"x": {"datum": 0.9, "type": "quantitative", "axis": null}, "x2": {"datum": 2.1}, "y": {"field": "y", "type": "quantitative"}}},
         {"data": {"name": "sig"}, "transform": [{"filter": "datum.col === 'Red'"}],
          "mark": {"type": "text", "fontSize": 24, "fontWeight": "bold", "baseline": "alphabetic", "dy": 6, "color": "#000000"},
          "encoding": {"x": {"datum": 1.5, "type": "quantitative", "axis": null}, "y": {"field": "y", "type": "quantitative"}, "text": {"field": "lab"}}}
       ]}
      ]}
   ]}
  ]
  }
 ]},
 {"spacing": 0,
  "resolve": {"scale": {"shape": "independent", "strokeDash": "independent", "size": "independent"}, "legend": {"shape": "independent", "strokeDash": "independent", "size": "independent"}},
  "hconcat": [
  {"width": 1, "height": 1, "view": {"stroke": null}, "data": {"values": []}, "mark": "point"},
  {
  "title": {"text": "(c)", "dy": 21},
  "width": 661, "height": 260,
  "layer": [
   {"data": {"name": "gr"}, "mark": {"type": "area", "color": "#9a9a9a", "opacity": 0.55},
    "encoding": {
      "x": {"field": "d", "type": "quantitative", "scale": {"domain": [-2.5, 52.9], "nice": false, "zero": false},
            "axis": {"values": [0,5,10,15,20,25,30,35,40,45,50], "labelExpr": "datum.value % 10 === 0 ? datum.label : ''", "tickOpacity": {"condition": {"test": "datum.value % 10 === 0", "value": 1}, "value": 0}, "gridWidth": {"condition": {"test": "datum.value % 10 === 0", "value": 1.1}, "value": 0.55}, "title": "Distance (cm)", "titlePadding": 3}},
      "y": {"field": "lo", "type": "quantitative", "scale": {"domain": [-3.35, 75.9], "nice": false, "zero": false},
            "axis": {"values": [0,10,20,30,40,50,60,70], "labelExpr": "datum.value % 20 === 0 ? datum.label : ''", "tickOpacity": {"condition": {"test": "datum.value % 20 === 0", "value": 1}, "value": 0}, "gridWidth": {"condition": {"test": "datum.value % 20 === 0", "value": 1.1}, "value": 0.55}, "title": "g(r)", "titlePadding": 1, "minExtent": 21, "maxExtent": 21}},
      "y2": {"field": "hi"},
      "detail": {"field": "p", "type": "nominal"}}},
   {"data": {"name": "gr"}, "mark": {"type": "line", "color": "#000000", "strokeWidth": 2},
    "encoding": {"x": {"field": "d", "type": "quantitative"}, "y": {"field": "th", "type": "quantitative"},
      "strokeDash": {"field": "p", "type": "nominal", "scale": {"domain": ["GV","PB"], "range": [[6,4],[1,0]]},
        "legend": {"title": " ", "orient": "none", "legendX": 99, "legendY": 14, "values": ["PB","GV"], "titleFontSize": 13, "titleFontWeight": "normal", "titlePadding": 10, "labelFontSize": 12, "labelExpr": "''", "clipHeight": 15, "symbolType": "stroke", "symbolSize": 256, "symbolStrokeWidth": 2.5, "symbolStrokeColor": "#000000", "rowPadding": 2, "symbolOffset": 2}}}},
   {"data": {"name": "gr"}, "mark": {"type": "point", "filled": true, "color": "#555555", "opacity": 1},
    "encoding": {"x": {"field": "d", "type": "quantitative"}, "y": {"field": "g", "type": "quantitative"},
      "size": {"field": "p", "type": "nominal", "scale": {"domain": ["GV","PB"], "range": [70, 42]}, "legend": null},
      "shape": {"field": "p", "type": "nominal", "scale": {"domain": ["PB","GV"], "range": ["circle","triangle"]},
        "legend": {"title": "Population", "orient": "none", "legendX": 99, "legendY": 14, "titleFontSize": 13, "titleFontWeight": "normal", "titleColor": "#000000", "titlePadding": 10, "labelFontSize": 12, "labelColor": "#000000", "clipHeight": 15, "symbolSize": 50, "rowPadding": 2, "symbolOffset": 1.5, "labelOffset": 12.5, "encode": {"symbols": {"update": {"fill": {"value": "#000000"}}}}}}}},
   {"data": {"name": "gr"}, "mark": {"type": "line", "color": "#e5302a", "strokeWidth": 1.3},
    "encoding": {"x": {"field": "d", "type": "quantitative"}, "y": {"field": "f", "type": "quantitative"}, "detail": {"field": "p", "type": "nominal"}}},
   {"data": {"name": "arr"}, "mark": {"type": "rule", "color": "#000000", "strokeWidth": 1},
    "encoding": {"x": {"field": "x", "type": "quantitative"}, "y": {"field": "y", "type": "quantitative"}, "x2": {"field": "x2"}, "y2": {"field": "y2"}}},
   {"data": {"name": "arr"}, "mark": {"type": "point", "shape": "triangle", "filled": true, "color": "#000000", "size": 45, "angle": 164, "opacity": 1},
    "encoding": {"x": {"field": "x2", "type": "quantitative"}, "y": {"field": "y2", "type": "quantitative"}}},
   {"data": {"name": "ann"}, "mark": {"type": "text", "fontSize": 12, "color": "#333333"},
    "encoding": {"x": {"field": "x", "type": "quantitative"}, "y": {"field": "y", "type": "quantitative"}, "text": {"field": "t"}}}
  ]
  }
 ]}
 ]}
]
}
